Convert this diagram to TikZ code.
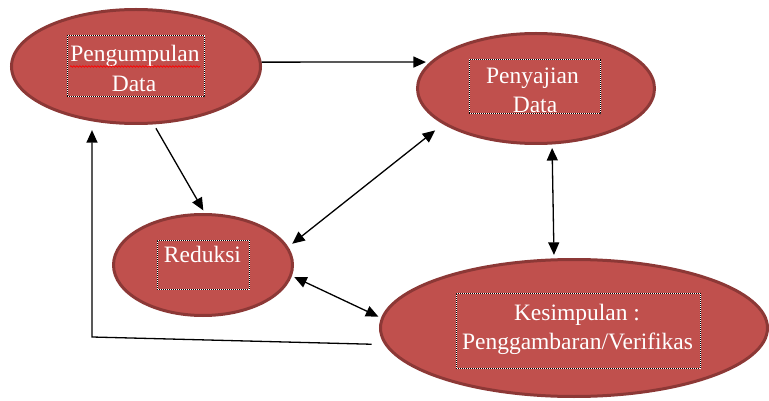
\documentclass[tikz,border=0pt]{standalone}
\usepackage{fontspec}
\setmainfont{Liberation Serif}
\usetikzlibrary{arrows.meta,decorations.pathmorphing,shapes.geometric}
\definecolor{ellfill}{RGB}{192,80,77}
\definecolor{elldraw}{RGB}{140,56,54}
\tikzset{
  ell/.style={ellipse, draw=elldraw, fill=ellfill, line width=3pt, inner sep=0pt},
  tbox/.style={rectangle, inner sep=0pt, draw=white, line width=1pt,
    postaction={draw=black, line width=1pt, dash pattern=on 1pt off 1pt}},
  lbl/.style={anchor=base, inner sep=0pt, text=white, font=\fontsize{23.5}{30}\selectfont},
  arr/.style={line width=1.3pt, -{Triangle[length=12.5pt,width=11pt]}},
  darr/.style={line width=1.3pt, {Triangle[length=12.5pt,width=11pt]}-{Triangle[length=12.5pt,width=11pt]}}
}
\begin{document}
\begin{tikzpicture}[x=1pt,y=-1pt]
\useasboundingbox (0,0) rectangle (769,401);
% ellipses
\node[ell, minimum width=249pt, minimum height=114pt] (pd) at (136,66.5) {};
\node[ell, minimum width=237pt, minimum height=110pt] (py) at (536,88.5) {};
\node[ell, minimum width=179pt, minimum height=101pt] (rd) at (203,265) {};
\node[ell, minimum width=387pt, minimum height=137pt] (ks) at (574,328) {};
% dotted text boxes
\node[tbox, minimum width=137pt, minimum height=61pt] (pdb) at (135.5,66.5) {};
\node[tbox, minimum width=131pt, minimum height=54pt] (pyb) at (534.5,87) {};
\node[tbox, minimum width=92pt, minimum height=49pt] (rdb) at (203,264.5) {};
\node[tbox, minimum width=244pt, minimum height=75pt] (ksb) at (578,330.5) {};
% texts
\node[lbl] (pdt1) at (135,62) {Pengumpulan};
\node[lbl] (pdt2) at (134,92) {Data};
\draw[red, line width=0.7pt, decorate, decoration={snake, amplitude=0.8pt, segment length=3pt}] (70,66.5) -- (200,66.5);
\node[lbl] (pyt1) at (532.5,83.5) {Penyajian};
\node[lbl] (pyt2) at (535,113) {Data};
\node[lbl] (rdt1) at (202.5,262) {Reduksi};
\node[lbl] (kst1) at (577,320) {Kesimpulan :};
\node[lbl] (kst2) at (577.5,349) {Penggambaran/Verifikas};
% connectors
\draw[arr, shorten >=4pt] (pd.2) -- (py.166);
\draw[arr, shorten <=4.5pt, shorten >=3pt] (pd.287.7) -- (rd.88);
\draw[darr, shorten <=10pt, shorten >=5pt] (py.201.85) -- (rd.12.5);
\draw[darr, shorten <=3.5pt, shorten >=3.5pt] (py.286) -- (ks.106);
\draw[darr, shorten <=2.5pt, shorten >=3pt] (rd.353.8) -- (ks.177.1);
\coordinate (c1) at (92,337);
\draw[arr, shorten <=13pt, shorten >=8pt] (ks.185.1) -- (c1) -- (c1 |- pd.235.3);
\end{tikzpicture}
\end{document}
